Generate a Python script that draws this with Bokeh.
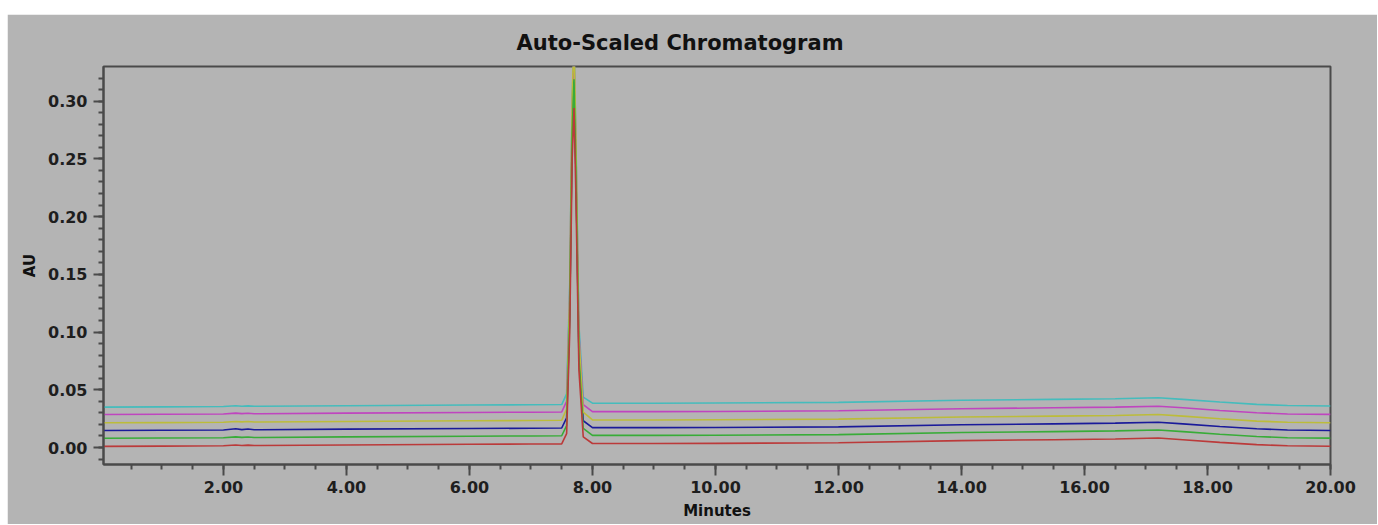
from bokeh.plotting import figure
from bokeh.models import (ColumnDataSource, Range1d, SingleIntervalTicker,
                          NumeralTickFormatter, Spacer)
from bokeh.layouts import column, row
from bokeh.embed import file_html
from bokeh.resources import INLINE

# ---------------- data ----------------
minutes = [0.05, 1.0, 2.0, 2.2, 2.3, 2.4, 2.5, 2.6, 4.0, 6.0, 7.0, 7.5,
           7.58, 7.63, 7.67, 7.70, 7.73, 7.78, 7.85, 8.0, 9.0, 10.0, 12.0,
           14.0, 15.5, 16.5, 17.2, 17.6, 18.2, 18.8, 19.3, 20.0]

au_red = [0.0010, 0.0012, 0.0015, 0.0022, 0.0018, 0.0021, 0.0017, 0.0017,
          0.0022, 0.0028, 0.0030, 0.0032, 0.0120, 0.0990, 0.2500, 0.2940,
          0.2210, 0.0670, 0.0093, 0.0035, 0.0035, 0.0036, 0.0042, 0.0060,
          0.0068, 0.0074, 0.0082, 0.0068, 0.0045, 0.0025, 0.0015, 0.0011]

au_green = [0.0080, 0.0082, 0.0085, 0.0092, 0.0088, 0.0091, 0.0087, 0.0087,
            0.0092, 0.0098, 0.0100, 0.0102, 0.0190, 0.1120, 0.2730, 0.3190,
            0.2420, 0.0780, 0.0165, 0.0105, 0.0105, 0.0106, 0.0112, 0.0130,
            0.0138, 0.0144, 0.0152, 0.0138, 0.0115, 0.0095, 0.0085, 0.0081]

au_blue = [0.0147, 0.0149, 0.0152, 0.0162, 0.0155, 0.0160, 0.0154, 0.0154,
           0.0159, 0.0165, 0.0167, 0.0169, 0.0257, 0.1160, 0.2720, 0.3170,
           0.2420, 0.0830, 0.0232, 0.0172, 0.0172, 0.0173, 0.0179, 0.0197,
           0.0205, 0.0211, 0.0219, 0.0205, 0.0182, 0.0162, 0.0152, 0.0148]

au_yellow = [0.0214, 0.0216, 0.0219, 0.0226, 0.0222, 0.0225, 0.0221, 0.0221,
             0.0226, 0.0232, 0.0234, 0.0236, 0.0334, 0.1325, 0.3040, 0.3540,
             0.2710, 0.0960, 0.0306, 0.0239, 0.0239, 0.0240, 0.0246, 0.0264,
             0.0272, 0.0278, 0.0286, 0.0272, 0.0249, 0.0229, 0.0219, 0.0215]

au_magenta = [0.0286, 0.0288, 0.0291, 0.0298, 0.0294, 0.0297, 0.0293, 0.0293,
              0.0298, 0.0304, 0.0306, 0.0308, 0.0400, 0.1330, 0.2945, 0.3410,
              0.2635, 0.0990, 0.0372, 0.0311, 0.0311, 0.0312, 0.0318, 0.0336,
              0.0344, 0.0350, 0.0358, 0.0344, 0.0321, 0.0301, 0.0291, 0.0287]

au_cyan = [0.0350, 0.0352, 0.0355, 0.0362, 0.0358, 0.0361, 0.0357, 0.0357,
           0.0362, 0.0368, 0.0370, 0.0372, 0.0465, 0.1400, 0.3010, 0.3480,
           0.2700, 0.1060, 0.0437, 0.0384, 0.0384, 0.0385, 0.0391, 0.0409,
           0.0417, 0.0423, 0.0431, 0.0417, 0.0394, 0.0374, 0.0364, 0.0360]

# drawing order: first drawn lies underneath
series = [
    ("cyan", au_cyan, "#45bcbc"),
    ("magenta", au_magenta, "#bf45bf"),
    ("blue", au_blue, "#1a1a9a"),
    ("yellow", au_yellow, "#bcbc3a"),
    ("green", au_green, "#38ac38"),
    ("red", au_red, "#bb3a3a"),
]

title_text = "Auto-Scaled Chromatogram"
x_label = "Minutes"
y_label = "AU"

BG = "#b4b4b4"
AXC = "#4a4a4a"
FONT = "DejaVu Sans"

p = figure(width=1370, height=510, output_backend="svg", toolbar_location=None,
           x_range=Range1d(0.05, 20.0), y_range=Range1d(-0.0147, 0.330),
           min_border_left=96, min_border_right=47, min_border_top=52,
           min_border_bottom=60)

p.background_fill_color = BG
p.border_fill_color = BG
p.outline_line_color = AXC
p.outline_line_width = 2
p.xgrid.visible = False
p.ygrid.visible = False

src = ColumnDataSource(dict(t=minutes, **{name: vals for name, vals, _ in series}))
for name, vals, col in series:
    p.line("t", name, source=src, line_color=col, line_width=1.6)

# title
p.title.text = title_text
p.title.align = "left"
p.title.offset = 413
p.title.text_font = FONT
p.title.text_font_size = "21px"
p.title.text_font_style = "bold"
p.title.text_color = "#111111"
p.title.standoff = 23

# x axis
xa = p.xaxis[0]
xa.ticker = SingleIntervalTicker(interval=2, num_minor_ticks=4)
xa.formatter = NumeralTickFormatter(format="0.00")
xa.axis_line_color = AXC
xa.axis_line_width = 2
xa.major_tick_line_color = AXC
xa.minor_tick_line_color = AXC
xa.major_tick_line_width = 2
xa.minor_tick_line_width = 2
xa.major_tick_out = 11
xa.major_tick_in = 0
xa.minor_tick_out = 5
xa.minor_tick_in = 0
xa.major_label_standoff = 5
xa.major_label_text_font = FONT
xa.major_label_text_font_size = "16px"
xa.major_label_text_font_style = "bold"
xa.major_label_text_color = "#1e1e1e"
xa.axis_label = x_label
xa.axis_label_text_font = FONT
xa.axis_label_text_font_size = "15px"
xa.axis_label_text_font_style = "bold"
xa.axis_label_text_color = "#111111"
xa.axis_label_standoff = 6

# y axis
ya = p.yaxis[0]
ya.ticker = SingleIntervalTicker(interval=0.05, num_minor_ticks=5)
ya.formatter = NumeralTickFormatter(format="0.00")
ya.axis_line_color = AXC
ya.axis_line_width = 2
ya.major_tick_line_color = AXC
ya.minor_tick_line_color = AXC
ya.major_tick_line_width = 2
ya.minor_tick_line_width = 2
ya.major_tick_out = 10
ya.major_tick_in = 0
ya.minor_tick_out = 5
ya.minor_tick_in = 0
ya.major_label_standoff = 6
ya.major_label_text_font = FONT
ya.major_label_text_font_size = "16px"
ya.major_label_text_font_style = "bold"
ya.major_label_text_color = "#1e1e1e"
ya.axis_label = y_label
ya.axis_label_text_font = FONT
ya.axis_label_text_font_size = "15px"
ya.axis_label_text_font_style = "bold"
ya.axis_label_text_color = "#111111"
ya.axis_label_standoff = 6

layout = column(Spacer(width=1370, height=14),
                row(Spacer(width=7, height=510), p))

open("out.html", "w").write(file_html(layout, INLINE))
